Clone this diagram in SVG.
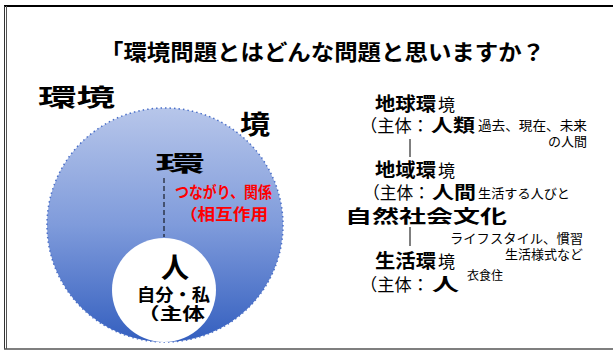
<svg xmlns="http://www.w3.org/2000/svg" width="613" height="351" viewBox="0 0 613 351">
<defs>
<linearGradient id="blueGrad" x1="0" y1="0" x2="0" y2="1">
<stop offset="0" stop-color="#b7c6ea"/>
<stop offset="0.5" stop-color="#7f9bdb"/>
<stop offset="1" stop-color="#345fbf"/>
</linearGradient>
</defs>
<style>
.b{font-family:"Noto Sans CJK JP","Liberation Sans",sans-serif;font-weight:bold;fill:#000}
.r{font-family:"Noto Sans CJK JP","Liberation Sans",sans-serif;font-weight:normal;fill:#000}
.red{font-family:"Noto Sans CJK JP","Liberation Sans",sans-serif;font-weight:bold;fill:#ff0000}
.conn{stroke:#000;stroke-width:1;fill:none}
</style>
<rect width="613" height="351" fill="#fff"/>
<g id="frame">
<line x1="4" y1="6" x2="613" y2="6" stroke="#000" stroke-width="2"/>
<line x1="4.5" y1="6" x2="4.5" y2="349" stroke="#333" stroke-width="1"/>
<line x1="6.5" y1="6" x2="6.5" y2="349" stroke="#555" stroke-width="1"/>
<line x1="4" y1="349" x2="613" y2="349" stroke="#555" stroke-width="1.5"/>
</g>
<g id="title">
<text class="b" x="100" y="60" font-size="22" textLength="445" lengthAdjust="spacingAndGlyphs">「環境問題とはどんな問題と思いますか？</text>
</g>
<g id="env-circle">
<ellipse cx="165" cy="225" rx="118" ry="117" fill="url(#blueGrad)" stroke="#4a6fc8" stroke-width="1.5" stroke-dasharray="1.5 3"/>
<text class="b" x="38" y="106" font-size="24" textLength="77" lengthAdjust="spacingAndGlyphs">環境</text>
<text class="b" x="240" y="134" font-size="26" textLength="30" lengthAdjust="spacingAndGlyphs">境</text>
<text class="b" x="155" y="171" font-size="22" textLength="50" lengthAdjust="spacingAndGlyphs">環</text>
<text class="red" x="175" y="198" font-size="16" textLength="97" lengthAdjust="spacingAndGlyphs">つながり、関係</text>
<text class="red" x="180" y="220" font-size="16" textLength="88" lengthAdjust="spacingAndGlyphs">（相互作用</text>
</g>
<g id="person">
<circle cx="164" cy="290" r="52" fill="#fff"/>
<text class="b" x="175" y="278" font-size="28" text-anchor="middle">人</text>
<text class="b" x="137" y="301" font-size="17" textLength="73" lengthAdjust="spacingAndGlyphs">自分・私</text>
<text class="b" x="137" y="320" font-size="17" textLength="68" lengthAdjust="spacingAndGlyphs">（主体</text>
</g>
<g id="connectors">
<line class="conn" x1="164" y1="178" x2="164" y2="237" stroke-dasharray="5 3"/>
<line class="conn" x1="410" y1="139" x2="410" y2="157"/>
<line class="conn" x1="410" y1="227" x2="410" y2="246"/>
</g>
<g id="global-env">
<text class="b" x="375" y="111" font-size="19" textLength="61" lengthAdjust="spacingAndGlyphs">地球環</text>
<text class="r" x="438" y="111" font-size="17">境</text>
<text class="r" x="360" y="132" font-size="17" textLength="69" lengthAdjust="spacingAndGlyphs">（主体：</text>
<text class="b" x="431" y="132" font-size="18" textLength="44" lengthAdjust="spacingAndGlyphs">人類</text>
<text class="r" x="478" y="130" font-size="13" textLength="109" lengthAdjust="spacingAndGlyphs">過去、現在、未来</text>
<text class="r" x="587" y="146" font-size="13" text-anchor="end">の人間</text>
</g>
<g id="regional-env">
<text class="b" x="375" y="177" font-size="19" textLength="61" lengthAdjust="spacingAndGlyphs">地域環</text>
<text class="r" x="438" y="177" font-size="17">境</text>
<text class="r" x="363" y="199" font-size="17" textLength="67" lengthAdjust="spacingAndGlyphs">（主体：</text>
<text class="b" x="432" y="199" font-size="18" textLength="44" lengthAdjust="spacingAndGlyphs">人間</text>
<text class="r" x="478" y="198" font-size="13" textLength="92" lengthAdjust="spacingAndGlyphs">生活する人びと</text>
<text class="b" x="345" y="223" font-size="18" textLength="162" lengthAdjust="spacingAndGlyphs">自然社会文化</text>
</g>
<g id="living-env">
<text class="r" x="583" y="243" font-size="13" text-anchor="end" textLength="133" lengthAdjust="spacingAndGlyphs">ライフスタイル、慣習</text>
<text class="r" x="583" y="259" font-size="13" text-anchor="end">生活様式など</text>
<text class="b" x="375" y="268" font-size="19" textLength="61" lengthAdjust="spacingAndGlyphs">生活環</text>
<text class="r" x="438" y="268" font-size="17">境</text>
<text class="r" x="467" y="280" font-size="12">衣食住</text>
<text class="r" x="360" y="291" font-size="17" textLength="69" lengthAdjust="spacingAndGlyphs">（主体：</text>
<text class="b" x="432" y="291" font-size="18" textLength="27" lengthAdjust="spacingAndGlyphs">人</text>
</g>
</svg>
